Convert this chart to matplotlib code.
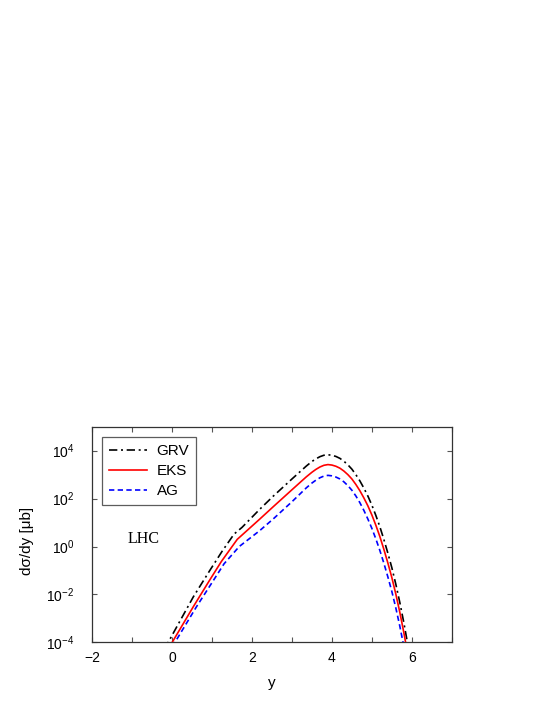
import matplotlib
matplotlib.use("Agg")
import matplotlib.pyplot as plt
import numpy as np

# rapidity y, log10(dsigma/dy [mub])
grv_y = [-0.18, -0.10, 0.53, 0.95, 1.25, 1.55, 1.75, 2.19, 2.53, 3.0, 3.36, 3.5, 3.6, 3.7, 3.8, 3.9,
         4.0, 4.1, 4.2, 4.3, 4.4, 4.5, 4.6, 4.7, 4.8, 4.9, 5.0, 5.1, 5.2, 5.3, 5.4, 5.5, 5.6, 5.7, 5.8, 5.9, 5.95]
grv_l = [-4.3, -4.0, -2.10, -0.98, -0.2, 0.52, 0.80, 1.55, 2.10, 2.82, 3.36, 3.55, 3.66, 3.75, 3.81, 3.83,
         3.81, 3.76, 3.68, 3.56, 3.41, 3.23, 3.00, 2.74, 2.44, 2.11, 1.73, 1.30, 0.83, 0.30, -0.27, -0.88, -1.57, -2.33, -3.17, -4.09, -4.6]

eks_y = [-0.05, 0.0, 0.53, 0.94, 1.23, 1.63, 2.19, 2.53, 3.0, 3.36, 3.5, 3.6, 3.7, 3.8, 3.9,
         4.0, 4.1, 4.2, 4.3, 4.4, 4.5, 4.6, 4.7, 4.8, 4.9, 5.0, 5.1, 5.2, 5.3, 5.4, 5.5, 5.6, 5.7, 5.8, 5.9]
eks_l = [-4.15, -4.0, -2.51, -1.40, -0.63, 0.30, 1.14, 1.66, 2.37, 2.91, 3.10, 3.22, 3.32, 3.39, 3.42,
         3.40, 3.35, 3.27, 3.15, 3.00, 2.82, 2.59, 2.33, 2.03, 1.70, 1.32, 0.89, 0.42, -0.11, -0.68, -1.29, -1.98, -2.74, -3.58, -4.5]

ag_y = [0.03, 0.07, 0.61, 1.0, 1.3, 1.68, 2.19, 2.53, 3.0, 3.36, 3.5, 3.6, 3.7, 3.8, 3.9,
        4.0, 4.1, 4.2, 4.3, 4.4, 4.5, 4.6, 4.7, 4.8, 4.9, 5.0, 5.1, 5.2, 5.3, 5.4, 5.5, 5.6, 5.7, 5.8, 5.85]
ag_l = [-4.2, -4.0, -2.51, -1.50, -0.72, 0.0, 0.66, 1.15, 1.87, 2.45, 2.65, 2.77, 2.87, 2.94, 2.97,
        2.95, 2.90, 2.82, 2.70, 2.54, 2.35, 2.11, 1.83, 1.51, 1.15, 0.76, 0.32, -0.16, -0.69, -1.26, -1.87, -2.56, -3.32, -4.16, -4.6]

xticks = [-2, 0, 2, 4, 6]
yticks_exp = [-4, -2, 0, 2, 4]

plt.rcParams['font.family'] = ['Liberation Sans', 'DejaVu Sans']
plt.rcParams['mathtext.fontset'] = 'custom'
plt.rcParams['mathtext.rm'] = 'Liberation Sans'
plt.rcParams['mathtext.it'] = 'Liberation Sans'

fig = plt.figure(figsize=(5.45, 7.05), dpi=100)
ax = fig.add_axes([0.1694, 0.0889, 0.6594, 0.3058])

ax.plot(grv_y, 10 ** np.array(grv_l), color='black', lw=1.2,
        dashes=(5, 2.2, 1.2, 2.2), label='GRV')
ax.plot(eks_y, 10 ** np.array(eks_l), color='#ff0000', lw=1.2, label='EKS')
ax.plot(ag_y, 10 ** np.array(ag_l), color='#0000ff', lw=1.2,
        dashes=(3.2, 2), label='AG')

ax.set_yscale('log')
ax.set_xlim(-2, 7)
ax.set_ylim(1e-4, 1e5)
ax.set_xticks(xticks)
ax.set_xticks([-1, 1, 3, 5, 7], minor=True)
ax.set_yticks([10.0 ** e for e in yticks_exp])
ax.set_yticklabels([r'$10^{%d}$' % e for e in yticks_exp])
ax.yaxis.set_minor_locator(matplotlib.ticker.NullLocator())
ax.tick_params(which='both', direction='in', top=True, right=True,
               length=3.5, width=0.8, color='#555555', labelsize=10)
ax.tick_params(axis='x', pad=6)
ax.tick_params(axis='y', pad=13)
for s in ax.spines.values():
    s.set_linewidth(0.9)
    s.set_color('#333333')

ax.set_xlabel('y', fontsize=11, labelpad=8)
ax.set_ylabel('dσ/dy [μb]', fontsize=11)
ax.yaxis.set_label_coords(-0.162, 0.47)

ax.text(-1.12, 10 ** 0.31, 'LHC', family='Liberation Serif', fontsize=11.5,
        va='center', ha='left')

leg = ax.legend(loc='upper left', bbox_to_anchor=(0.028, 0.951), fontsize=11,
                frameon=True, fancybox=False, edgecolor='#333333',
                handlelength=2.5, handletextpad=0.6, borderpad=0.45,
                labelspacing=0.4, borderaxespad=0)
leg.get_frame().set_linewidth(0.9)

fig.savefig('out.png', dpi=100)
